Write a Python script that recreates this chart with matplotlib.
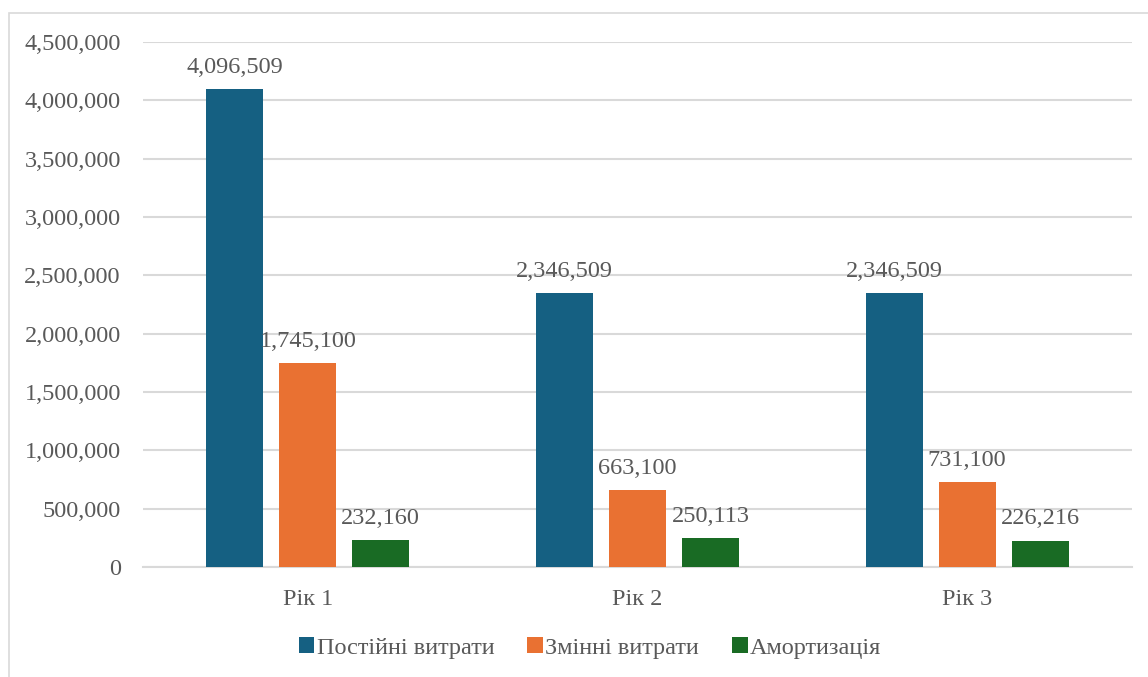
import matplotlib.pyplot as plt
import numpy as np
from matplotlib.patches import Rectangle

plt.rcParams['font.family'] = ['Liberation Serif', 'DejaVu Serif']

years = ['Рік 1', 'Рік 2', 'Рік 3']
series = ['Постійні витрати', 'Змінні витрати', 'Амортизація']
fixed_costs = [4096509, 2346509, 2346509]
variable_costs = [1745100, 663100, 731100]
depreciation = [232160, 250113, 226216]
colors = ['#156082', '#E97132', '#196B24']

W, H = 1148, 677
fig = plt.figure(figsize=(W / 100, H / 100), dpi=100)
ax = fig.add_axes([143 / W, 1 - 567 / H, (1132 - 143) / W, (567 - 42) / H])

# chart frame (cut off at right and bottom like the original)
fig.patches.append(Rectangle((8.5 / W, -0.05), 1.2, 1 - 12.5 / H + 0.05,
                             transform=fig.transFigure, fill=False,
                             edgecolor='#d9d9d9', linewidth=1.2))

x = np.arange(len(years))
width = 57 / 330
step = 73 / 330
text_color = '#595959'
fs = 17.5

for i, (vals, name) in enumerate(zip([fixed_costs, variable_costs, depreciation], series)):
    pos = x + (i - 1) * step
    bars = ax.bar(pos, vals, width, color=colors[i], label=name, zorder=3)
    for b, v in zip(bars, vals):
        ax.annotate(f'{v:,}', (b.get_x() + b.get_width() / 2, v),
                    xytext=(0, 8), textcoords='offset points',
                    ha='center', va='bottom', fontsize=fs, color=text_color)

ax.set_xlim(-0.5, 2.5)
ax.set_ylim(0, 4500000)
ax.set_yticks(np.arange(0, 4500001, 500000))
ax.set_yticklabels([f'{int(t):,}' for t in ax.get_yticks()])
ax.set_xticks(x)
ax.set_xticklabels(years)
ax.tick_params(axis='both', length=0, labelsize=fs, labelcolor=text_color)
ax.tick_params(axis='y', pad=16)
ax.tick_params(axis='x', pad=16)
ax.grid(axis='y', color='#d9d9d9', linewidth=1.5, zorder=0)
for s in ['top', 'right', 'left']:
    ax.spines[s].set_visible(False)
ax.spines['bottom'].set_color('#d9d9d9')
ax.spines['bottom'].set_linewidth(1.5)

leg = fig.legend(loc='center', bbox_to_anchor=(590 / W, 1 - 648 / H), ncol=3,
                 frameon=False, fontsize=fs, handlelength=0.65, handleheight=0.65,
                 handletextpad=0.1, columnspacing=1.35)
for t in leg.get_texts():
    t.set_color(text_color)

fig.savefig('out.png', dpi=100)
